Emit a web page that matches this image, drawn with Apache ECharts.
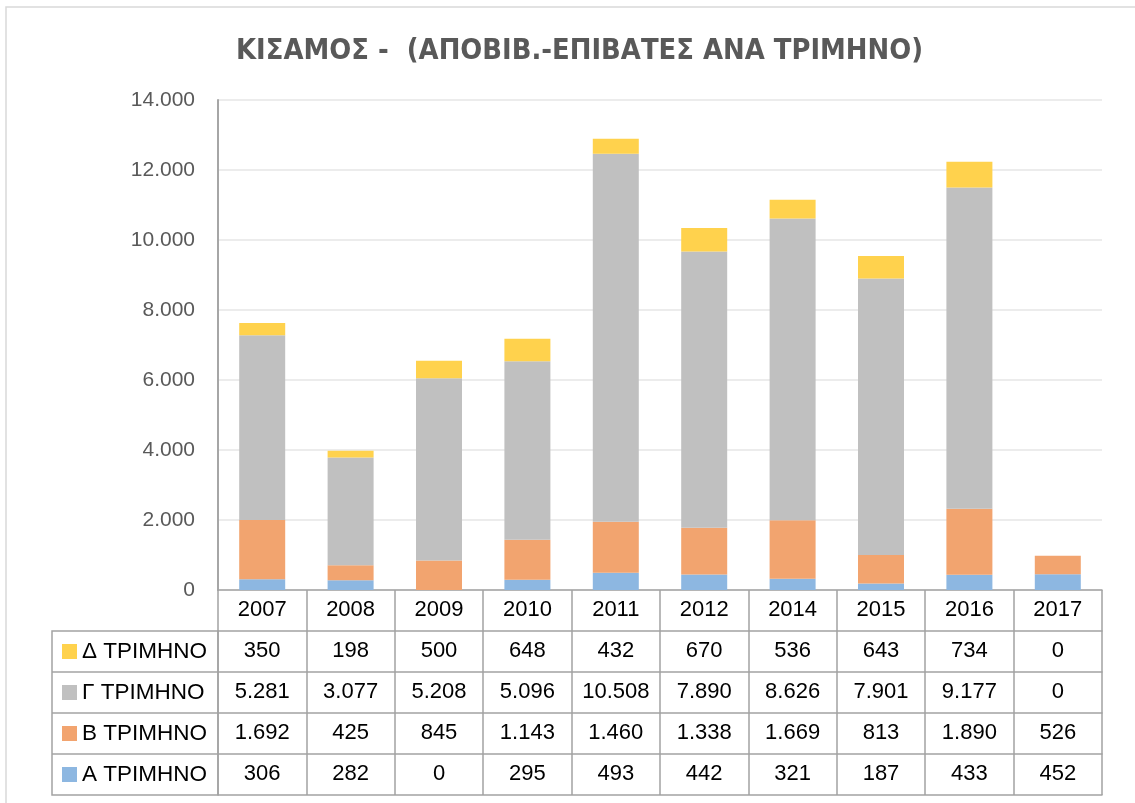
<!DOCTYPE html>
<html>
<head>
<meta charset="utf-8">
<script src="https://cdn.jsdelivr.net/npm/echarts@6/dist/echarts.min.js"></script>
<style>
  html, body { margin: 0; padding: 0; background: #fff; }
  #main { width: 1135px; height: 803px; }
</style>
</head>
<body>
<div id="main"></div>
<script>
// Years (categories)
const years = ['2007', '2008', '2009', '2010', '2011', '2012', '2014', '2015', '2016', '2017'];
// Passengers per quarter
const quarterA = [306, 282, 0, 295, 493, 442, 321, 187, 433, 452];
const quarterB = [1692, 425, 845, 1143, 1460, 1338, 1669, 813, 1890, 526];
const quarterG = [5281, 3077, 5208, 5096, 10508, 7890, 8626, 7901, 9177, 0];
const quarterD = [350, 198, 500, 648, 432, 670, 536, 643, 734, 0];
const seriesNames = ['Α ΤΡΙΜΗΝΟ', 'Β ΤΡΙΜΗΝΟ', 'Γ ΤΡΙΜΗΝΟ', 'Δ ΤΡΙΜΗΝΟ'];
const colors = ['#8DB7E1', '#F2A46F', '#C0C0C0', '#FFD24D'];

// greek style thousands: 5.281
const fmt = v => String(v).replace(/\B(?=(\d{3})+(?!\d))/g, '.');

const chart = echarts.init(document.getElementById('main'));

const lineColor = '#A3A3A3';
const rowH = 41;
// table rows top to bottom: Δ, Γ, Β, Α
const tableRows = [
    { name: seriesNames[3], data: quarterD, color: colors[3] },
    { name: seriesNames[2], data: quarterG, color: colors[2] },
    { name: seriesNames[1], data: quarterB, color: colors[1] },
    { name: seriesNames[0], data: quarterA, color: colors[0] }
];

const tableFont = { fontSize: 22, color: '#000', fontFamily: 'Liberation Sans, sans-serif' };

const xAxes = [{
    type: 'category',
    data: years,
    position: 'bottom',
    axisLine: { show: true, lineStyle: { color: lineColor, width: 1.5 } },
    axisTick: { show: true, interval: 0, length: rowH, lineStyle: { color: lineColor, width: 1.5 } },
    axisLabel: Object.assign({ interval: 0, margin: 9 }, tableFont)
}];
tableRows.forEach((row, i) => {
    xAxes.push({
        type: 'category',
        data: row.data.map(fmt),
        position: 'bottom',
        offset: rowH * (i + 1),
        axisLine: { show: true, lineStyle: { color: lineColor, width: 1.5 } },
        axisTick: { show: true, interval: 0, length: rowH, lineStyle: { color: lineColor, width: 1.5 } },
        axisLabel: Object.assign({ interval: 0, margin: 9 }, tableFont)
    });
});
// bottom border of the table
xAxes.push({
    type: 'category',
    data: years,
    position: 'bottom',
    offset: rowH * 5,
    axisLine: { show: true, lineStyle: { color: lineColor, width: 1.5 } },
    axisTick: { show: false },
    axisLabel: { show: false }
});

// left column of the table (legend keys + names)
const graphics = [
    {
        type: 'rect',
        shape: { x: 6, y: 7, width: 1140, height: 810 },
        style: { fill: 'none', stroke: '#D9D9D9', lineWidth: 1.5 },
        silent: true
    },
    {
        type: 'rect',
        shape: { x: 52, y: 590 + rowH, width: 166, height: rowH * 4 },
        style: { fill: 'none', stroke: lineColor, lineWidth: 1.5 }
    }
];
tableRows.forEach((row, i) => {
    const top = 590 + rowH * (i + 1);
    if (i > 0) {
        graphics.push({
            type: 'line',
            shape: { x1: 52, y1: top, x2: 218, y2: top },
            style: { stroke: lineColor, lineWidth: 1.5 }
        });
    }
    graphics.push({
        type: 'rect',
        shape: { x: 62, y: top + 13, width: 15, height: 15 },
        style: { fill: row.color }
    });
    graphics.push({
        type: 'text',
        x: 82,
        y: top + rowH / 2,
        style: {
            text: row.name, verticalAlign: 'middle',
            fontSize: 22.5, fill: '#000', fontFamily: 'Liberation Sans, sans-serif'
        }
    });
});

const seriesData = [quarterA, quarterB, quarterG, quarterD];

const option = {
    animation: false,
    title: {
        text: 'ΚΙΣΑΜΟΣ -  (ΑΠΟΒΙΒ.-ΕΠΙΒΑΤΕΣ ΑΝΑ ΤΡΙΜΗΝΟ)',
        left: 231,
        top: 32,
        textStyle: {
            fontSize: 28.8,
            fontWeight: 'bold',
            color: '#595959',
            fontFamily: "'DejaVu Sans Condensed', sans-serif"
        }
    },
    grid: { left: 218, right: 33, top: 100, bottom: 213, containLabel: false },
    xAxis: xAxes,
    yAxis: {
        type: 'value',
        min: 0,
        max: 14000,
        interval: 2000,
        axisLine: { show: true, lineStyle: { color: '#A6A6A6', width: 2 } },
        axisTick: { show: false },
        splitLine: { lineStyle: { color: '#E6E6E6', width: 1.5 } },
        axisLabel: {
            formatter: fmt,
            fontSize: 21,
            color: '#595959',
            margin: 23,
            fontFamily: 'Liberation Sans, sans-serif'
        }
    },
    series: seriesNames.map((name, i) => ({
        name: name,
        type: 'bar',
        stack: 'total',
        barWidth: 46,
        xAxisIndex: 0,
        itemStyle: { color: colors[i] },
        data: seriesData[i]
    })),
    graphic: graphics
};

chart.setOption(option);
</script>
</body>
</html>
